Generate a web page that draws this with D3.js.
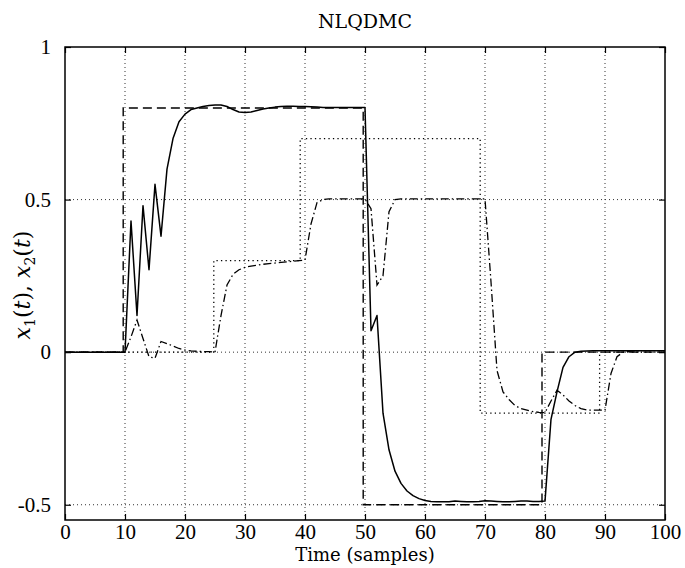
<!DOCTYPE html>
<html>
<head>
<meta charset="utf-8">
<script src="https://cdn.jsdelivr.net/npm/d3@7"></script>
<style>
  body { margin: 0; background: #fff; }
  svg { display: block; }
  .tick text { font-family: "Liberation Serif", serif; font-size: 21px; fill: #000; }
</style>
</head>
<body>
<svg id="chart" width="685" height="568"></svg>
<script>
// sample index 0..100
var samples = d3.range(0, 101);

// x1(t), solid
var x1Values = [
  0, 0, 0, 0, 0, 0, 0, 0, 0, 0, 0,
  0.43, 0.12, 0.48, 0.27, 0.55, 0.38, 0.60, 0.70, 0.755, 0.78,
  0.795, 0.80, 0.805, 0.808, 0.81, 0.81, 0.805, 0.795, 0.787, 0.785,
  0.787, 0.792, 0.797, 0.80, 0.803, 0.805, 0.806, 0.806, 0.805, 0.805,
  0.804, 0.803, 0.802, 0.802, 0.802, 0.802, 0.802, 0.802, 0.802, 0.802,
  0.07, 0.12, -0.20, -0.32, -0.39, -0.43, -0.455, -0.47, -0.48, -0.486,
  -0.489, -0.49, -0.49, -0.49, -0.488, -0.489, -0.49, -0.49, -0.489, -0.487,
  -0.488, -0.489, -0.49, -0.49, -0.489, -0.488, -0.488, -0.489, -0.489,
  -0.488, -0.22, -0.13, -0.05, -0.015, 0.0,
  0.003, 0.004, 0.005, 0.005, 0.005, 0.005, 0.005, 0.005, 0.005, 0.005,
  0.005, 0.005, 0.005, 0.005, 0.005
];

// x2(t), dash-dot
var x2Values = [
  0, 0, 0, 0, 0, 0, 0, 0, 0, 0, 0,
  0.05, 0.105, 0.045, -0.015, -0.02, 0.035, 0.028, 0.02, 0.012, 0.007,
  0.004, 0.003, 0.002, 0.002, 0.0, 0.12, 0.22, 0.255, 0.27, 0.278,
  0.282, 0.285, 0.288, 0.29, 0.292, 0.294, 0.296, 0.298, 0.30, 0.302,
  0.42, 0.49, 0.50,
  0.502, 0.502, 0.502, 0.502, 0.502, 0.502, 0.502,
  0.47, 0.22, 0.25, 0.46, 0.50,
  0.502, 0.502, 0.502, 0.502, 0.502, 0.502, 0.502, 0.502, 0.502, 0.502,
  0.502, 0.502, 0.502, 0.502, 0.502,
  0.23, -0.06, -0.13, -0.155, -0.175, -0.185, -0.19, -0.195, -0.197, -0.198,
  -0.16, -0.125, -0.14, -0.16, -0.175, -0.185, -0.19, -0.19, -0.19, -0.19,
  -0.07, -0.015, 0.0,
  0.003, 0.004, 0.005, 0.005, 0.005, 0.005, 0.005
];

// setpoints (step changes)
var r1Times = [0, 9.7, 49.7, 79.5, 100];
var r1Levels = [0, 0.8, -0.5, 0, 0];
var r2Times = [0, 24.8, 39.2, 69.2, 89.1, 100];
var r2Levels = [0, 0.3, 0.7, -0.2, 0, 0];

var xTicks = [0, 10, 20, 30, 40, 50, 60, 70, 80, 90, 100];
var yTicks = [-0.5, 0, 0.5, 1];
var yTickLabels = ["-0.5", "0", "0.5", "1"];

var margin = {left: 65, right: 20, top: 47, bottom: 48}
  , width = 685
  , height = 568
  , plot_w = width - margin.left - margin.right
  , plot_h = height - margin.top - margin.bottom;

var svg = d3.select("#chart");

var xScale = d3.scaleLinear().domain([0, 100]).range([0, plot_w]);
var yScale = d3.scaleLinear().domain([-0.55, 1]).range([plot_h, 0]);

var g = svg.append("g")
  .attr("transform", "translate(" + margin.left + "," + margin.top + ")");

// grid (dotted)
g.append("g").selectAll("line")
  .data(xTicks.filter(d => d > 0 && d < 100))
 .enter().append("line")
  .attr("x1", d => xScale(d)).attr("x2", d => xScale(d))
  .attr("y1", 0).attr("y2", plot_h)
  .attr("stroke", "#333").attr("stroke-width", 1)
  .attr("stroke-dasharray", "1,3");

g.append("g").selectAll("line")
  .data(yTicks.filter(d => d < 1))
 .enter().append("line")
  .attr("y1", d => yScale(d)).attr("y2", d => yScale(d))
  .attr("x1", 0).attr("x2", plot_w)
  .attr("stroke", "#333").attr("stroke-width", 1)
  .attr("stroke-dasharray", "1,3");

// axes with inward ticks
var xAxis = d3.axisBottom(xScale).tickValues(xTicks).tickSize(-6).tickPadding(4);
var gx = g.append("g").attr("transform", "translate(0," + plot_h + ")").call(xAxis);
gx.selectAll("text").attr("dy", "0.71em");

g.append("g").call(d3.axisTop(xScale).tickValues(xTicks).tickSize(-6).tickFormat(""));

var yAxis = d3.axisLeft(yScale).tickValues(yTicks).tickSize(-6).tickPadding(14)
  .tickFormat((d, i) => yTickLabels[i]);
g.append("g").call(yAxis);
g.append("g").attr("transform", "translate(" + plot_w + ",0)")
  .call(d3.axisRight(yScale).tickValues(yTicks).tickSize(-6).tickFormat(""));

g.selectAll(".domain").remove();
g.selectAll(".tick line").attr("stroke", "#000").attr("stroke-width", 1.2);

g.append("rect")
  .attr("x", 0).attr("y", 0).attr("width", plot_w).attr("height", plot_h)
  .attr("fill", "none").attr("stroke", "#000").attr("stroke-width", 1.5);

// lines
var line = d3.line()
  .x(d => xScale(d[0]))
  .y(d => yScale(d[1]));

var stepLine = d3.line()
  .x(d => xScale(d[0]))
  .y(d => yScale(d[1]))
  .curve(d3.curveStepAfter);

var r2Data = r2Times.map((t, i) => [t, r2Levels[i]]);
var r1Data = r1Times.map((t, i) => [t, r1Levels[i]]);
var x1Data = samples.map((t, i) => [t, x1Values[i]]);
var x2Data = samples.map((t, i) => [t, x2Values[i]]);

g.append("path").datum(r2Data)
  .attr("d", stepLine)
  .attr("fill", "none").attr("stroke", "#000").attr("stroke-width", 1.3)
  .attr("stroke-dasharray", "1.3,3.2");

g.append("path").datum(r1Data)
  .attr("d", stepLine)
  .attr("fill", "none").attr("stroke", "#000").attr("stroke-width", 1.4)
  .attr("stroke-dasharray", "9,5");

g.append("path").datum(x2Data)
  .attr("d", line)
  .attr("fill", "none").attr("stroke", "#000").attr("stroke-width", 1.3)
  .attr("stroke-dasharray", "8,3,1.5,3");

g.append("path").datum(x1Data)
  .attr("d", line)
  .attr("fill", "none").attr("stroke", "#000").attr("stroke-width", 1.5)
  .attr("stroke-linejoin", "round");

// title and labels
svg.append("text")
  .attr("x", margin.left + plot_w / 2).attr("y", 28)
  .attr("text-anchor", "middle")
  .style("font-family", "'DejaVu Serif', serif").style("font-size", "19px")
  .text("NLQDMC");

svg.append("text")
  .attr("x", margin.left + plot_w / 2).attr("y", 561)
  .attr("text-anchor", "middle")
  .style("font-family", "'DejaVu Serif', serif").style("font-size", "18px")
  .text("Time (samples)");

var ylab = svg.append("text")
  .attr("transform", "translate(30," + (margin.top + yScale(0.22)) + ") rotate(-90)")
  .attr("text-anchor", "middle")
  .style("font-family", "'DejaVu Serif', serif").style("font-size", "22px");
ylab.append("tspan").style("font-style", "italic").text("x");
ylab.append("tspan").attr("dy", 5).style("font-size", "14px").text("1");
ylab.append("tspan").attr("dy", -5).text("(");
ylab.append("tspan").style("font-style", "italic").text("t");
ylab.append("tspan").text("), ");
ylab.append("tspan").style("font-style", "italic").text("x");
ylab.append("tspan").attr("dy", 5).style("font-size", "14px").text("2");
ylab.append("tspan").attr("dy", -5).text("(");
ylab.append("tspan").style("font-style", "italic").text("t");
ylab.append("tspan").text(")");
</script>
</body>
</html>
